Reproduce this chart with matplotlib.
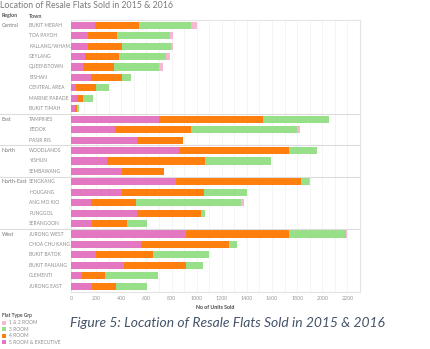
import matplotlib
matplotlib.use("Agg")
import matplotlib.pyplot as plt
import matplotlib.transforms as mtransforms
import numpy as np

plt.rcParams["font.family"] = ["Lato", "DejaVu Sans"]

# ── data ────────────────────────────────────────────────────────────────────
towns = [
    "BUKIT MERAH", "TOA PAYOH", "KALLANG/WHAMPOA", "GEYLANG", "QUEENSTOWN",
    "BISHAN", "CENTRAL AREA", "MARINE PARADE", "BUKIT TIMAH",
    "TAMPINES", "BEDOK", "PASIR RIS",
    "WOODLANDS", "YISHUN", "SEMBAWANG",
    "SENGKANG", "HOUGANG", "ANG MO KIO", "PUNGGOL", "SERANGOON",
    "JURONG WEST", "CHOA CHU KANG", "BUKIT BATOK", "BUKIT PANJANG",
    "CLEMENTI", "JURONG EAST",
]
town_region = (["Central"] * 9 + ["East"] * 3 + ["North"] * 3
               + ["North-East"] * 5 + ["West"] * 6)
five_room = [191, 133, 135, 114, 98, 157, 40, 45, 29,
             701, 351, 523, 863, 289, 409,
             834, 404, 159, 528, 165,
             914, 558, 199, 422, 85, 165]
four_room = [351, 231, 274, 266, 242, 247, 162, 51, 21,
             831, 605, 367, 869, 776, 334,
             999, 656, 359, 508, 281,
             823, 698, 452, 492, 186, 191]
three_room = [412, 425, 390, 377, 364, 74, 103, 77, 11,
              521, 842, 4, 225, 526, 0,
              63, 342, 831, 29, 160,
              449, 64, 446, 135, 422, 250]
one_two_room = [50, 21, 14, 34, 26, 0, 0, 0, 0,
                0, 24, 0, 0, 0, 0,
                8, 0, 27, 0, 0,
                8, 0, 0, 0, 0, 0]
x_ticks = list(range(0, 2201, 200))

series = [
    ("5 ROOM & EXECUTIVE", five_room, "#e377c2"),
    ("4 ROOM", four_room, "#ff7f0e"),
    ("3 ROOM", three_room, "#98df8a"),
    ("1 & 2 ROOM", one_two_room, "#f7b6d2"),
]

W, H = 430, 349
fig = plt.figure(figsize=(W / 100, H / 100), dpi=100)
ax = fig.add_axes([71 / W, 57 / H, 289 / W, 272 / H])

y = np.arange(len(towns))
left = np.zeros(len(towns))
for name, vals, color in series:
    vals = np.array(vals, dtype=float)
    ax.barh(y, vals, left=left, height=0.68, color=color, linewidth=0, zorder=3)
    left += vals

ax.set_xlim(0, 2300)
ax.set_ylim(len(towns) - 0.45, -0.5)
ax.set_yticks([])
ax.set_xticks(x_ticks)
ax.set_xticklabels([str(t) for t in x_ticks], fontsize=3.8, color="#999999")
ax.tick_params(axis="x", length=0, pad=3)
for t in range(100, 2300, 100):
    ax.axvline(t, color="#f3f3f3", lw=0.6, zorder=0)
for s in ax.spines.values():
    s.set_color("#e4e4e4")
    s.set_linewidth(0.8)
ax.set_xlabel("No of Units Sold", fontsize=3.8, color="#444444",
              fontweight="bold", labelpad=3)

# labels / separators live in figure-x, data-y
blend = mtransforms.blended_transform_factory(fig.transFigure, ax.transData)
prev = None
for i, (town, reg) in enumerate(zip(towns, town_region)):
    label = town if len(town) <= 14 else town[:12] + ".."
    ax.text(29 / W, i, label, transform=blend, fontsize=3.5, color="#8c8c8c",
            va="center", ha="left")
    if reg != prev:
        ax.text(2 / W, i, reg, transform=blend, fontsize=3.8, color="#777777",
                va="center", ha="left")
        if prev is not None:
            ax.plot([0, 360 / W], [i - 0.5, i - 0.5], transform=blend,
                    color="#dcdcdc", lw=0.8, clip_on=False, zorder=4)
    prev = reg

fig.text(2 / W, 1 - 16 / H, "Region", fontsize=3.8, fontweight="bold",
         color="#555555", va="center")
fig.text(29 / W, 1 - 16 / H, "Town", fontsize=3.8, fontweight="bold",
         color="#555555", va="center")
fig.text(0, 1 - 6 / H, "Location of Resale Flats Sold in 2015 & 2016",
         fontsize=6.3, color="#7a7a7a", va="center", ha="left")

# legend
fig.text(2 / W, 1 - 315 / H, "Flat Type Grp", fontsize=3.6, fontweight="bold",
         color="#555555", va="center")
for k, (name, vals, color) in enumerate(series[::-1]):
    yy = 323 + k * 6.4
    fig.patches.append(plt.Rectangle((2 / W, 1 - (yy + 2) / H), 4 / W, 4 / H,
                                     transform=fig.transFigure,
                                     color=color, lw=0))
    fig.text(9 / W, 1 - yy / H, name, fontsize=3.5, color="#8c8c8c",
             va="center")

fig.text(70 / W, 1 - 323 / H,
         "Figure 5: Location of Resale Flats Sold in 2015 & 2016",
         fontsize=10, style="italic", color="#44546a", va="center")

fig.savefig("out.png", dpi=100)
